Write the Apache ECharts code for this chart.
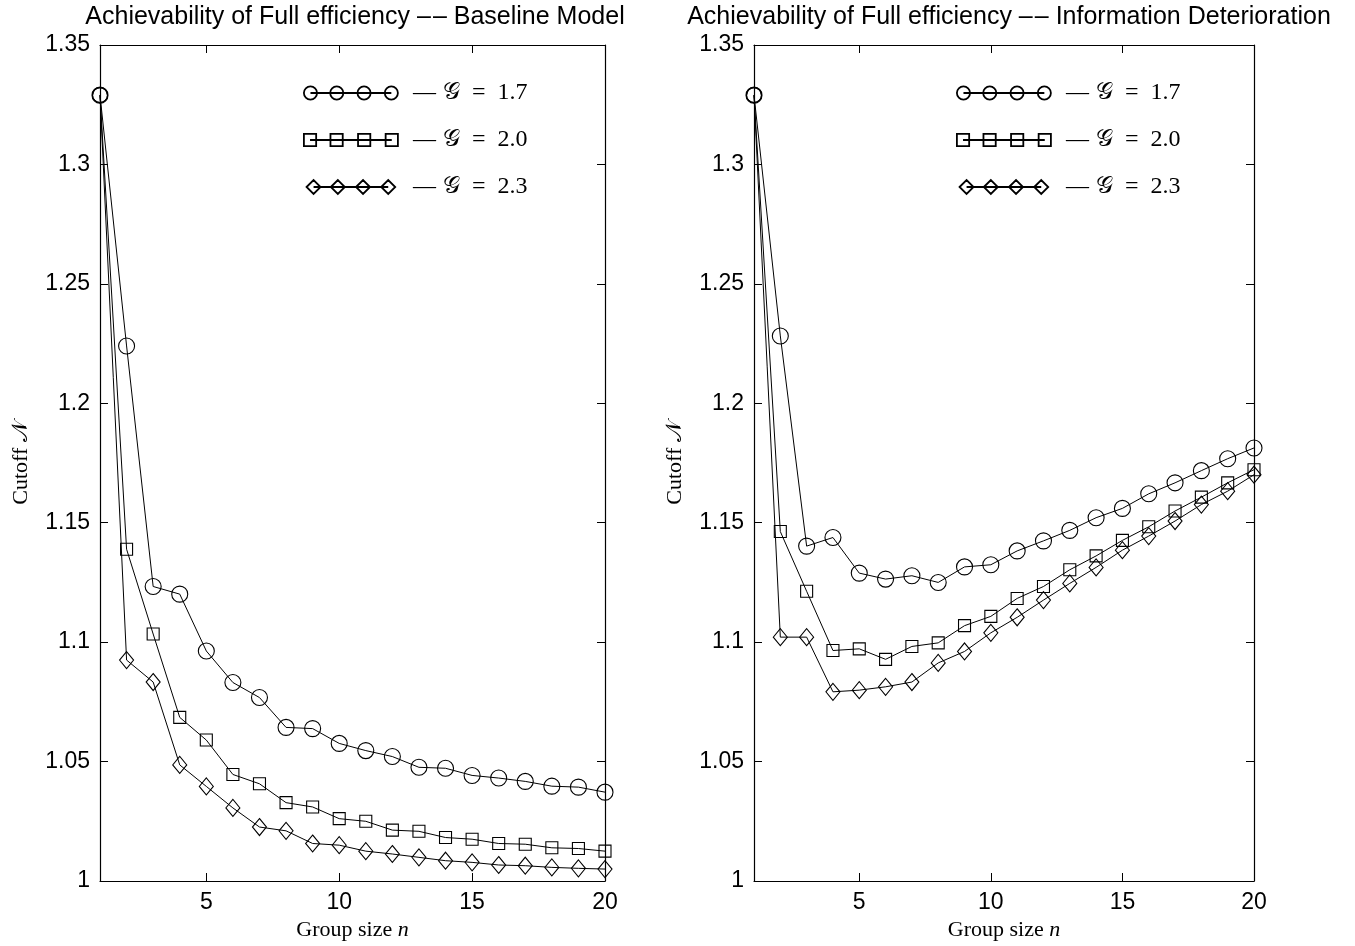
<!DOCTYPE html>
<html>
<head>
<meta charset="utf-8">
<script src="https://cdn.jsdelivr.net/npm/echarts@6/dist/echarts.min.js"></script>
<style>html,body{margin:0;padding:0;background:#fff;}#c{width:1355px;height:946px;}</style>
</head>
<body>
<div id="c"></div>
<script>
const groupSize = [1,2,3,4,5,6,7,8,9,10,11,12,13,14,15,16,17,18,19,20];
const gLevels = ['1.7','2.0','2.3'];
const xTickValues = [5,10,15,20];

const baseG17 = [1.329,1.224,1.1233,1.1201,1.0963,1.0831,1.0768,1.0643,1.0638,1.0576,1.0546,1.0521,1.0476,1.0472,1.0442,1.0431,1.0417,1.0397,1.0393,1.0372];
const baseG20 = [1.329,1.1389,1.1034,1.0685,1.059,1.0446,1.0407,1.0328,1.031,1.0261,1.025,1.0213,1.0208,1.0182,1.0175,1.0157,1.0154,1.0139,1.0136,1.0125];
const baseG23 = [1.329,1.0925,1.0833,1.0486,1.0396,1.0306,1.0226,1.021,1.0157,1.015,1.0125,1.0113,1.0099,1.0085,1.0078,1.0067,1.0064,1.0057,1.0053,1.005];

const infoG17 = [1.329,1.2282,1.1402,1.1438,1.1289,1.1264,1.1278,1.125,1.1315,1.1324,1.1382,1.1424,1.1468,1.1521,1.156,1.1621,1.1667,1.1718,1.1768,1.1813];
const infoG20 = [1.329,1.1463,1.1213,1.0965,1.0972,1.0928,1.0982,1.0997,1.1069,1.1108,1.1183,1.1233,1.1303,1.1361,1.1426,1.1483,1.1549,1.1607,1.1667,1.1722];
const infoG23 = [1.329,1.1021,1.1021,1.0792,1.0799,1.0813,1.0833,1.0913,1.0961,1.1039,1.1104,1.1176,1.1246,1.1313,1.1385,1.1444,1.1507,1.1576,1.1632,1.1701];

const titles = ['Achievability of Full efficiency \u2013\u200A\u2013 Baseline Model',
                'Achievability of Full efficiency \u2013\u200A\u2013 Information Deterioration'];

// legend icons: a line with four hollow markers
function circlesIcon(){
  const r = 6.5, cy = 7, cxs = [7,33,60,87];
  let p = 'M' + (cxs[0]) + ' ' + cy + 'L' + cxs[3] + ' ' + cy + ' ';
  cxs.forEach(cx => { p += 'M' + (cx - r) + ' ' + cy + 'A' + r + ' ' + r + ' 0 1 0 ' + (cx + r) + ' ' + cy + 'A' + r + ' ' + r + ' 0 1 0 ' + (cx - r) + ' ' + cy + 'Z '; });
  return 'path://' + p;
}
function squaresIcon(){
  const h = 6, cy = 7, cxs = [7,33,60,87];
  let p = 'M' + cxs[0] + ' ' + cy + 'L' + cxs[3] + ' ' + cy + ' ';
  cxs.forEach(cx => { p += 'M' + (cx-h) + ' ' + (cy-h) + 'L' + (cx+h) + ' ' + (cy-h) + 'L' + (cx+h) + ' ' + (cy+h) + 'L' + (cx-h) + ' ' + (cy+h) + 'Z '; });
  return 'path://' + p;
}
function diamondsIcon(){
  const w = 7.5, hh = 7.5, cy = 7, cxs = [7,33,60,87];
  let p = 'M' + cxs[0] + ' ' + cy + 'L' + cxs[3] + ' ' + cy + ' ';
  cxs.forEach(cx => { p += 'M' + (cx-w) + ' ' + cy + 'L' + cx + ' ' + (cy-hh) + 'L' + (cx+w) + ' ' + cy + 'L' + cx + ' ' + (cy+hh) + 'Z '; });
  return 'path://' + p;
}
const icons = [circlesIcon(), squaresIcon(), diamondsIcon()];

const grids = [
  {left: 100, right: 750, top: 45, bottom: 65},
  {left: 754, right: 101, top: 45, bottom: 65}
];

const sansFont = '"Liberation Sans", Arial, Helvetica, sans-serif';
const serifFont = '"Liberation Serif", "DejaVu Serif", serif';

function xAxes(gi){
  return [
    {type:'value', gridIndex: gi, min:1, max:20, position:'bottom',
     name: '{a|Group size }{i|n}', nameLocation:'middle', nameGap: 38,
     nameTextStyle:{rich:{a:{fontFamily:serifFont, fontSize:22, color:'#000'}, i:{fontFamily:serifFont, fontStyle:'italic', fontSize:22, color:'#000'}}},
     axisLine:{show:true, lineStyle:{color:'#000', width:1.2}},
     axisTick:{show:true, inside:true, length:8, customValues: xTickValues, lineStyle:{color:'#000'}},
     axisLabel:{show:true, customValues: xTickValues, color:'#000', fontFamily: sansFont, fontSize:23, margin:10},
     splitLine:{show:false}},
    {type:'value', gridIndex: gi, min:1, max:20, position:'top',
     axisLine:{show:true, lineStyle:{color:'#000', width:1.2}},
     axisTick:{show:true, inside:true, length:8, customValues: xTickValues, lineStyle:{color:'#000'}},
     axisLabel:{show:false}, splitLine:{show:false}}
  ];
}
function yAxes(gi){
  return [
    {type:'value', gridIndex: gi, min:1, max:1.35, interval:0.05, position:'left',
     name: '{a|Cutoff }{i|\u{1D4A9}}', nameLocation:'middle', nameGap: 68,
     nameTextStyle:{rich:{a:{fontFamily:serifFont, fontSize:22, color:'#000'}, i:{fontFamily:serifFont, fontSize:22, color:'#000'}}},
     axisLine:{show:true, lineStyle:{color:'#000', width:1.2}},
     axisTick:{show:true, inside:true, length:8, lineStyle:{color:'#000'}},
     axisLabel:{show:true, color:'#000', fontFamily: sansFont, fontSize:23, margin:10,
       formatter: v => String(parseFloat(v.toFixed(2)))},
     splitLine:{show:false}},
    {type:'value', gridIndex: gi, min:1, max:1.35, interval:0.05, position:'right',
     axisLine:{show:true, lineStyle:{color:'#000', width:1.2}},
     axisTick:{show:true, inside:true, length:8, lineStyle:{color:'#000'}},
     axisLabel:{show:false}, splitLine:{show:false}}
  ];
}

const symbols = ['circle','rect','diamond'];
const symbolSizes = [16, 12, [14,17]];
function makeSeries(gi, values, k){
  const data = groupSize.map((n, i) => {
    const item = {value: [n, values[i]]};
    if (i === 0 && k > 0) { item.symbol = 'circle'; item.symbolSize = 15; }
    return item;
  });
  return {
    type:'line', name: gLevels[k], xAxisIndex: gi*2, yAxisIndex: gi*2,
    data, symbol: symbols[k], symbolSize: symbolSizes[k], showAllSymbol: true,
    lineStyle:{color:'#000', width:1},
    itemStyle:{color:'rgba(255,255,255,0)', borderColor:'#000', borderWidth:1.1},
    emphasis:{disabled:true}, animation:false
  };
}

const legendRich = {
  d:{fontFamily:serifFont, fontSize:23, lineHeight:24, color:'#000', padding:[0,7,0,0]},
  g:{fontFamily:serifFont, fontSize:24, lineHeight:24, color:'#000'},
  t:{fontFamily:serifFont, fontSize:24, lineHeight:24, color:'#000'}
};
function makeLegend(left){
  return {
    orient:'vertical', left: left, top: 81, padding: 0, itemWidth: 94, itemHeight: 14, itemGap: 23,
    selectedMode:false,
    data: gLevels.map((g, k) => ({name: g, icon: icons[k]})),
    itemStyle:{color:'#fff', borderColor:'#000', borderWidth:1.8},
    formatter: name => '{d|\u2014}{g|\u{1D4A2}}{t|\u2002=\u2002' + name + '}',
    textStyle:{rich: legendRich, padding:[0,0,0,10]}
  };
}

const chart = echarts.init(document.getElementById('c'), null, {renderer:'canvas'});
chart.setOption({
  backgroundColor:'#fff',
  animation:false,
  title: titles.map((t, i) => ({
    text: t, left: i === 0 ? 350 : 1004, top: 0, textAlign:'center',
    textStyle:{fontFamily: sansFont, fontWeight:'normal', fontSize:25, color:'#000'}
  })),
  legend: [makeLegend(303), makeLegend(956)],
  grid: grids,
  xAxis: [...xAxes(0), ...xAxes(1)],
  yAxis: [...yAxes(0), ...yAxes(1)],
  series: [
    makeSeries(0, baseG17, 0), makeSeries(0, baseG20, 1), makeSeries(0, baseG23, 2),
    makeSeries(1, infoG17, 0), makeSeries(1, infoG20, 1), makeSeries(1, infoG23, 2)
  ]
});
</script>
</body>
</html>
